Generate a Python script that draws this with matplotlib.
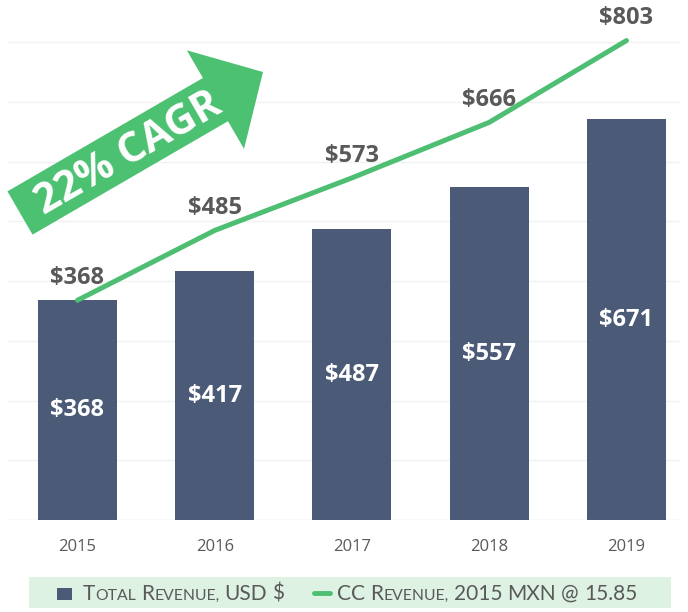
import matplotlib
matplotlib.use("Agg")
import matplotlib.pyplot as plt
from matplotlib.patches import FancyArrow, Rectangle
from matplotlib.lines import Line2D
from matplotlib.transforms import Affine2D

YEARS = ["2015", "2016", "2017", "2018", "2019"]
USD_REVENUE = [368, 417, 487, 557, 671]
CC_REVENUE = [368, 485, 573, 666, 803]
CAGR_LABEL = "22% CAGR"
LEGEND_USD = "Total Revenue, USD $"
LEGEND_CC = "CC Revenue, 2015 MXN @ 15.85"

BAR_COLOR = "#4A5A77"
GREEN = "#4DBE72"
ARROW_GREEN = "#4CC172"
LABEL_GRAY = "#595959"
BAND_COLOR = "#DDF2E3"
W, H = 688, 612

fig = plt.figure(figsize=(W / 100, H / 100), dpi=100)
# pixel coordinates, origin top-left
px = Affine2D().scale(1 / W, -1 / H).translate(0, 1) + fig.transFigure

ax = fig.add_axes([8 / W, (H - 520) / H, 672 / W, 507.5 / H])
xs = list(range(len(YEARS)))
ax.bar(xs, USD_REVENUE, width=0.576, color=BAR_COLOR, zorder=2)
ax.plot(xs, CC_REVENUE, color=GREEN, lw=3.6, solid_capstyle="round",
        solid_joinstyle="round", zorder=3)

for i, v in enumerate(USD_REVENUE):
    ax.text(i, v / 2, f"${v}", ha="center", va="center", color="white",
            fontsize=17, fontweight="bold", family="Open Sans", zorder=4)
for i, v in enumerate(CC_REVENUE):
    ax.annotate(f"${v}", (i, v), xytext=(0, 16), textcoords="offset points",
                ha="center", va="center", color=LABEL_GRAY, fontsize=17,
                fontweight="bold", family="Open Sans", zorder=4)

ax.set_xlim(-0.506, 4.39)
ax.set_ylim(0, 850)
ax.set_yticks(range(100, 900, 100))
ax.yaxis.grid(True, color="#F1F1F1", lw=1, zorder=0)
ax.axhline(0, color="#E2E2E2", lw=1, zorder=1)
ax.set_xticks(xs, YEARS)
ax.tick_params(left=False, labelleft=False, bottom=False, pad=10,
               labelsize=12, labelcolor=LABEL_GRAY)
for lab in ax.get_xticklabels():
    lab.set_family("Open Sans")
for sp in ax.spines.values():
    sp.set_visible(False)
ax.set_facecolor("none")

# growth arrow
arrow = FancyArrow(20, 213, 243, -141, width=50, head_width=114, head_length=55,
                   length_includes_head=True, color=ARROW_GREEN, lw=0,
                   transform=px, zorder=5)
fig.add_artist(arrow)
fig.text(129, 154, CAGR_LABEL, transform=px, rotation=30, rotation_mode="anchor",
         ha="center", va="center", color="white", fontsize=30,
         fontweight="bold", family="Open Sans", zorder=6)

# legend band
fig.add_artist(Rectangle((29, 577), 642, 31, transform=px, color=BAND_COLOR,
                         lw=0, zorder=0))
fig.add_artist(Rectangle((57, 588), 15, 12, transform=px, color=BAR_COLOR, lw=0))
fig.add_artist(Line2D([314, 330], [593, 593], transform=px, color=GREEN, lw=3.5,
                      solid_capstyle="round"))


def small_caps(x, y, text, big=15, small=11.3):
    renderer = fig.canvas.get_renderer()
    for k, word in enumerate(text.split(" ")):
        if k:
            x += 0.25 * big * 100 / 72
        runs = []
        for ch in word:
            if ch.islower():
                size = small
            elif ch.isalnum() or not runs:
                size = big
            else:
                size = runs[-1][1]
            if runs and runs[-1][1] == size:
                runs[-1][0] += ch.upper()
            else:
                runs.append([ch.upper(), size])
        for s, size in runs:
            t = fig.text(x, y, s, transform=px, ha="left", va="baseline",
                         fontsize=size, color=LABEL_GRAY, family="Lato")
            x += t.get_window_extent(renderer).width
    return x


small_caps(83, 600, LEGEND_USD)
small_caps(337, 600, LEGEND_CC)

fig.savefig("out.png", dpi=100)
